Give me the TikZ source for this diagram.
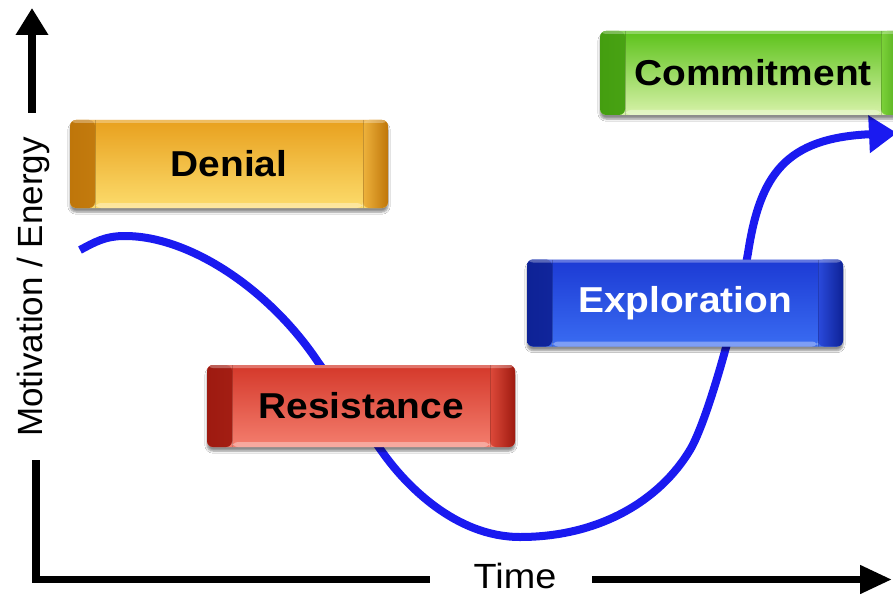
\documentclass[tikz,border=0pt]{standalone}
\usepackage{fontspec}
\setmainfont{Liberation Sans}
\usetikzlibrary{arrows.meta,shadows.blur}
\definecolor{denTop}{HTML}{E8A01E}
\definecolor{denBot}{HTML}{FCDC6C}
\definecolor{denCapO}{HTML}{BF760A}
\definecolor{denCapI}{HTML}{EEB23C}
\definecolor{comTop}{HTML}{5CC21A}
\definecolor{comBot}{HTML}{D8F2AA}
\definecolor{comCapO}{HTML}{449E10}
\definecolor{comCapI}{HTML}{7CD23A}
\definecolor{resTop}{HTML}{D4382A}
\definecolor{resBot}{HTML}{F47E6E}
\definecolor{resCapO}{HTML}{9E1A10}
\definecolor{resCapI}{HTML}{DE4A3A}
\definecolor{expTop}{HTML}{1C3AD4}
\definecolor{expBot}{HTML}{3A6CF2}
\definecolor{expCapO}{HTML}{0E2296}
\definecolor{expCapI}{HTML}{2A4ADC}
\definecolor{curveblue}{HTML}{1A1AF0}
\begin{document}
\begin{tikzpicture}[x=1pt,y=-1pt,
  stagebox/.style={rounded corners=6pt, inner sep=0pt,
    font=\fontsize{36}{40}\selectfont\bfseries,
    blur shadow={shadow xshift=0pt, shadow yshift=-4pt, shadow blur steps=6, shadow opacity=45}},
  shadeface/.style n args={4}{top color=#1, bottom color=#2,
    path picture={
      \shade[left color=#3, right color=#4] (path picture bounding box.north west) rectangle ([xshift=25pt]path picture bounding box.south west);
      \shade[left color=#4, right color=#3] ([xshift=-25pt]path picture bounding box.north east) rectangle (path picture bounding box.south east);
      \fill[white, opacity=0.35] ([xshift=25pt,yshift=5pt]path picture bounding box.south west) rectangle ([xshift=-25pt]path picture bounding box.south east);
      \fill[white, opacity=0.3] (path picture bounding box.north west) rectangle ([yshift=-3pt]path picture bounding box.north east);
      \draw[black, opacity=0.18, line width=0.8pt] ([xshift=25pt]path picture bounding box.north west) -- ([xshift=25pt]path picture bounding box.south west);
      \draw[black, opacity=0.18, line width=0.8pt] ([xshift=-25pt]path picture bounding box.north east) -- ([xshift=-25pt]path picture bounding box.south east);
    }},
  axis/.style={line width=7.5pt, black},
  axislabel/.style={font=\fontsize{35}{40}\selectfont, inner sep=0pt},
  trend/.style={line width=8pt, curveblue, line join=round}
]
\clip (0,0) rectangle (893,596);
\fill[white] (0,0) rectangle (893,596);

% axes
\coordinate (ytop) at (32,8);
\coordinate (ybase) at (32,113);
\coordinate (ylow) at (36,460);
\coordinate (origin) at (36,579.5);
\coordinate (xmid) at (430,579.5);
\coordinate (xstart) at (592,579.5);
\coordinate (xend) at (892,579.5);
\draw[axis, -{Triangle[length=27pt,width=31pt]}] (ybase) -- (ytop);
\draw[axis] (ylow) -- (origin) -- (xmid);
\draw[axis, -{Triangle[length=32pt,width=27pt]}] (xstart) -- (xend);
\node[axislabel, rotate=90] (ylabel) at (33,287) {Motivation / Energy};
\node[axislabel, anchor=base] (xlabel) at (515,588) {\scalebox{1.08}[1]{Time}};

% curve
\coordinate (p0) at (80,250);
\coordinate (p1) at (125,236);
\coordinate (p2) at (318,362);
\coordinate (p3) at (383,453);
\coordinate (p4) at (520,537);
\coordinate (p5) at (690,450);
\coordinate (p6) at (748,253);
\coordinate (p7) at (897,133);
\draw[trend, -{Triangle[length=28pt,width=36pt]}]
  (p0) .. controls (95,242) and (105,236) .. (p1)
  .. controls (190,236) and (270,290) .. (p2)
  -- (p3)
  .. controls (405,484) and (455,537) .. (p4)
  .. controls (600,537) and (660,500) .. (p5)
  .. controls (708,420) and (738,310) .. (p6)
  .. controls (760,175) and (785,138) .. (p7);

% stages
\node[stagebox, shadeface={denTop}{denBot}{denCapO}{denCapI},
  minimum width=318pt, minimum height=88pt] (denial) at (229,164) {\scalebox{1.08}[1]{Denial}};
\node[stagebox, shadeface={resTop}{resBot}{resCapO}{resCapI},
  minimum width=308pt, minimum height=82pt] (resistance) at (361,406) {\scalebox{1.08}[1]{Resistance}};
\node[stagebox, shadeface={expTop}{expBot}{expCapO}{expCapI}, text=white,
  minimum width=316pt, minimum height=87pt] (exploration) at (685,303) {\scalebox{1.08}[1]{Exploration}};
\node[stagebox, shadeface={comTop}{comBot}{comCapO}{comCapI},
  minimum width=306pt, minimum height=84pt] (commitment) at (753,73) {\scalebox{1.08}[1]{Commitment}};
\end{tikzpicture}
\end{document}
